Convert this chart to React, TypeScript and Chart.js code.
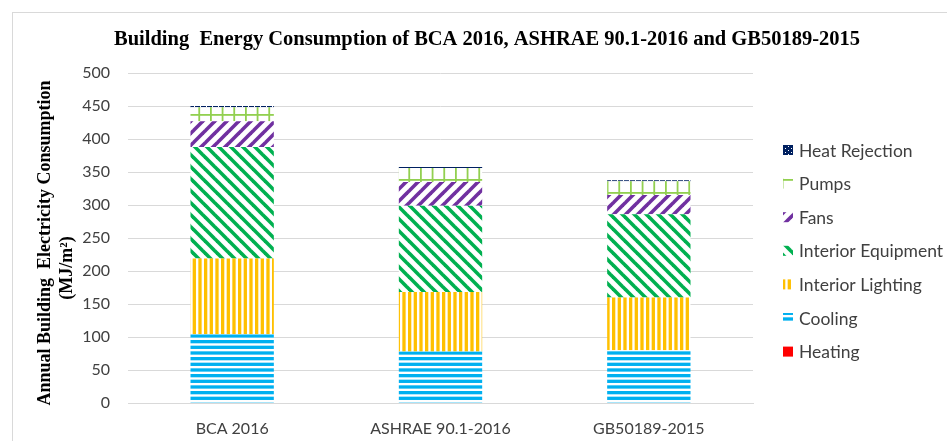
import { useEffect, useRef } from "react";
import { Chart, registerables } from "chart.js";

Chart.register(...registerables);

// ---------- data ----------
const categories = ["BCA 2016", "ASHRAE 90.1-2016", "GB50189-2015"];
const heating = [0, 0, 0];
const cooling = [104, 78, 80];
const interiorLighting = [115, 90, 80];
const interiorEquipment = [169, 131, 126];
const fans = [39, 36, 29];
const pumps = [21, 21, 21];
const heatRejection = [2, 1.5, 1.5];
const yMin = 0;
const yMax = 500;
const yStep = 50;
const chartTitle = "Building  Energy Consumption of BCA 2016, ASHRAE 90.1-2016 and GB50189-2015";
const yTitleLines = ["Annual Building  Electricity Consumption", "(MJ/m\u00B2)"];

// ---------- patterns ----------
function tile(w: number, h: number) {
  const c = document.createElement("canvas");
  c.width = w;
  c.height = h;
  const g = c.getContext("2d") as CanvasRenderingContext2D;
  g.fillStyle = "#ffffff";
  g.fillRect(0, 0, w, h);
  return { c, g };
}

function hStripes(color: string) {
  const h = 17;
  const { c, g } = tile(4, h);
  g.fillStyle = color;
  for (let i = 0; i < 3; i++) g.fillRect(0, (i * h) / 3, 4, 3.3);
  return g.createPattern(c, "repeat") as CanvasPattern;
}

function vStripes(color: string) {
  const w = 17;
  const { c, g } = tile(w, 4);
  g.fillStyle = color;
  for (let i = 0; i < 3; i++) g.fillRect((i * w) / 3, 0, 3.3, 4);
  return g.createPattern(c, "repeat") as CanvasPattern;
}

function diag(color: string, down: boolean) {
  const p = 12;
  const { c, g } = tile(p, p);
  g.strokeStyle = color;
  g.lineWidth = 3.6;
  for (let k = -1; k <= 1; k++) {
    g.beginPath();
    if (down) {
      g.moveTo(k * p - 2, -2);
      g.lineTo(k * p + p + 2, p + 2);
    } else {
      g.moveTo(k * p - 2, p + 2);
      g.lineTo(k * p + p + 2, -2);
    }
    g.stroke();
  }
  return g.createPattern(c, "repeat") as CanvasPattern;
}

function grid(color: string) {
  const w = 35;
  const h = 13;
  const { c, g } = tile(w, h);
  g.fillStyle = color;
  for (let i = 0; i < 3; i++) g.fillRect((i * w) / 3, 0, 1.8, h);
  g.fillRect(0, 10, w, 1.8);
  return g.createPattern(c, "repeat") as CanvasPattern;
}

function dots(color: string) {
  const { c, g } = tile(6, 4);
  g.fillStyle = color;
  g.fillRect(0, 0, 6, 4);
  g.fillStyle = "#ffffff";
  g.fillRect(5, 0, 1, 1);
  g.fillRect(2, 2, 1, 1);
  return g.createPattern(c, "repeat") as CanvasPattern;
}

// ---------- plugin for frame, titles, legend ----------
const decor = {
  id: "decor",
  beforeDraw(chart: any) {
    const ctx = chart.ctx as CanvasRenderingContext2D;
    ctx.save();
    ctx.fillStyle = "#ffffff";
    ctx.fillRect(0, 0, chart.width, chart.height);
    ctx.strokeStyle = "#d9d9d9";
    ctx.lineWidth = 1;
    ctx.strokeRect(12.5, 12.5, chart.width + 40, chart.height + 40);
    ctx.restore();
  },
  afterDraw(chart: any) {
    const ctx = chart.ctx as CanvasRenderingContext2D;
    const area = chart.chartArea;
    ctx.save();
    // chart title
    ctx.fillStyle = "#000000";
    ctx.font = "bold 20.5px 'Liberation Serif', 'Times New Roman', serif";
    ctx.textAlign = "center";
    ctx.textBaseline = "alphabetic";
    ctx.fillText(chartTitle, 487, 45);

    // y axis title
    ctx.save();
    ctx.translate(45, (area.top + area.bottom) / 2 + 5);
    ctx.rotate(-Math.PI / 2);
    ctx.font = "bold 18px 'Liberation Serif', 'Times New Roman', serif";
    ctx.textAlign = "center";
    ctx.textBaseline = "middle";
    ctx.fillText(yTitleLines[0], 0, 0);
    ctx.fillText(yTitleLines[1], -25, 22);
    ctx.restore();

    // legend (reversed order)
    const ds = chart.data.datasets.slice().reverse();
    ctx.font = "17.5px Lato, 'Open Sans', sans-serif";
    ctx.textAlign = "left";
    ctx.textBaseline = "middle";
    ds.forEach((d: any, i: number) => {
      const cy = 150 + i * 33.6;
      ctx.fillStyle = d.backgroundColor;
      ctx.fillRect(783, cy - 5, 10, 10);
      ctx.fillStyle = "#404040";
      ctx.fillText(d.label, 799, cy + 1);
    });
    ctx.restore();
  },
};

export default function App() {
  const ref = useRef<HTMLCanvasElement | null>(null);

  useEffect(() => {
    const canvas = ref.current;
    if (!canvas) return;
    const datasets = [
      { label: "Heating", data: heating, backgroundColor: "#ff0000" },
      { label: "Cooling", data: cooling, backgroundColor: hStripes("#00b0f0") },
      { label: "Interior Lighting", data: interiorLighting, backgroundColor: vStripes("#ffc000") },
      { label: "Interior Equipment", data: interiorEquipment, backgroundColor: diag("#00b050", true) },
      { label: "Fans", data: fans, backgroundColor: diag("#7030a0", false) },
      { label: "Pumps", data: pumps, backgroundColor: grid("#92d050") },
      { label: "Heat Rejection", data: heatRejection, backgroundColor: dots("#002060") },
    ].map((d) => ({ ...d, borderWidth: 0, barPercentage: 0.4, categoryPercentage: 1 }));

    const chart = new Chart(canvas, {
      type: "bar",
      data: { labels: categories, datasets: datasets as any },
      options: {
        responsive: false,
        animation: false,
        devicePixelRatio: 1,
        layout: { padding: { top: 73, right: 194, bottom: 0, left: 0 } },
        plugins: {
          legend: { display: false },
          title: { display: false },
          tooltip: { enabled: false },
        },
        scales: {
          x: {
            stacked: true,
            grid: { display: false, drawTicks: false },
            border: { display: true, color: "#d9d9d9" },
            ticks: {
              color: "#404040",
              font: { family: "Lato, 'Open Sans', sans-serif", size: 16 },
              padding: 16,
            },
            afterFit(scale: any) {
              scale.height = 38;
            },
          },
          y: {
            stacked: true,
            min: yMin,
            max: yMax,
            grid: { color: "#d9d9d9", drawTicks: false },
            border: { display: false },
            ticks: {
              stepSize: yStep,
              color: "#404040",
              font: { family: "Lato, 'Open Sans', sans-serif", size: 16 },
              padding: 18,
            },
            afterFit(scale: any) {
              scale.width = 128;
            },
          },
        },
      },
      plugins: [decor],
    });
    return () => chart.destroy();
  }, []);

  return (
    <div style={{ position: "absolute", left: 0, top: 0, width: 947, height: 441 }}>
      <canvas ref={ref} width={947} height={441} style={{ display: "block" }} />
    </div>
  );
}
